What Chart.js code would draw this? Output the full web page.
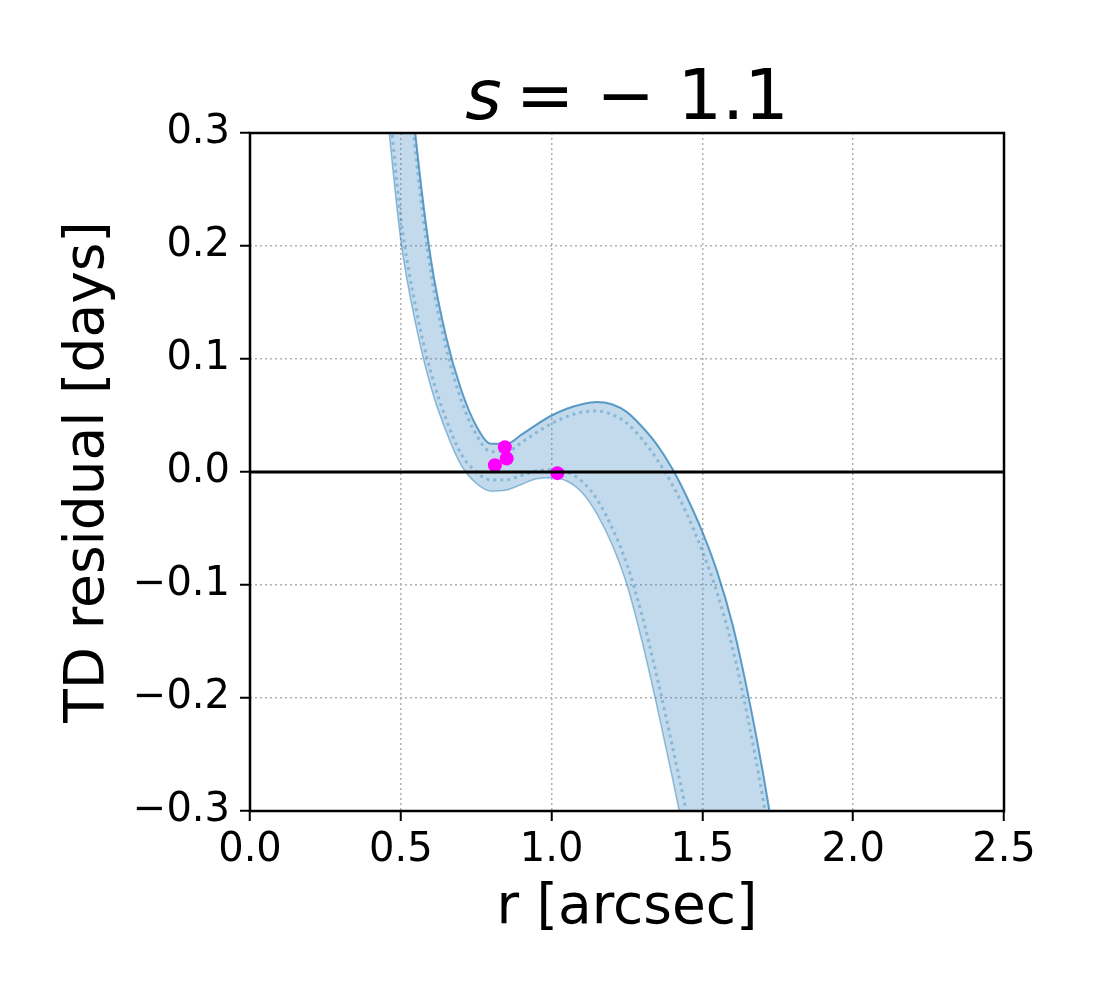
<!DOCTYPE html>
<html>
<head>
<meta charset="utf-8">
<script src="https://cdn.jsdelivr.net/npm/chart.js@4"></script>
<style>
  body { margin: 0; background: #fff; }
</style>
</head>
<body>
<canvas id="tdChart" width="1100" height="1000"></canvas>
<script>
// radius grid shared by the band curves [arcsec]
const rGrid = [0.45, 0.50, 0.55, 0.60, 0.65, 0.70, 0.75, 0.80, 0.85, 0.90,
               0.95, 1.00, 1.05, 1.10, 1.15, 1.20, 1.25, 1.30, 1.35, 1.40,
               1.45, 1.50, 1.55, 1.60, 1.65, 1.70, 1.75];

// upper / right edge of the residual band [days]
const upperEdge = [0.60, 0.44, 0.295, 0.188, 0.120, 0.073, 0.041, 0.025, 0.025, 0.033,
                   0.042, 0.050, 0.056, 0.060, 0.062, 0.060, 0.053, 0.040, 0.024, 0.003,
                   -0.023, -0.053, -0.089, -0.135, -0.195, -0.265, -0.345];

// denser curve just inside the upper edge
const innerUpper = [0.58, 0.42, 0.28, 0.176, 0.110, 0.064, 0.033, 0.018, 0.018, 0.026,
                    0.035, 0.043, 0.049, 0.053, 0.054, 0.051, 0.043, 0.029, 0.011, -0.011,
                    -0.038, -0.070, -0.108, -0.156, -0.217, -0.288, -0.37];

// denser curve just inside the lower edge
const innerLower = [0.36, 0.225, 0.145, 0.088, 0.047, 0.016, 0.000, -0.007, -0.007, -0.003,
                    0.001, 0.002, 0.000, -0.008, -0.024, -0.049, -0.082, -0.127, -0.182, -0.242,
                    -0.305, -0.375, -0.45, -0.53, -0.62, -0.72, -0.83];

// lower / left edge of the residual band [days]
const lowerEdge = [0.33, 0.205, 0.13, 0.075, 0.036, 0.006, -0.010, -0.017, -0.016, -0.011,
                   -0.006, -0.005, -0.008, -0.018, -0.037, -0.064, -0.100, -0.150, -0.208, -0.270,
                   -0.335, -0.40, -0.47, -0.55, -0.64, -0.74, -0.85];

// measured image positions (magenta)
const imageR = [0.812, 0.845, 0.851, 1.019];
const imageRes = [0.006, 0.022, 0.012, -0.001];

const xTicks = [0.0, 0.5, 1.0, 1.5, 2.0, 2.5];
const yTicks = [-0.3, -0.2, -0.1, 0.0, 0.1, 0.2, 0.3];

const toPts = (xs, ys) => xs.map((x, i) => ({ x: x, y: ys[i] }));
const fmt = v => v.toFixed(1).replace('-', '\u2212');

const FONT = "'DejaVu Sans', sans-serif";

const framePlugin = {
    id: 'frameAndTitle',
    afterDraw(chart) {
        const ctx = chart.ctx;
        const a = chart.chartArea;
        ctx.save();
        ctx.strokeStyle = '#000';
        ctx.lineWidth = 2.5;
        ctx.strokeRect(a.left, a.top, a.right - a.left, a.bottom - a.top);

        // title: italic s, upright rest (like mathtext)
        const size = 70;
        const italic = 'italic ' + size + 'px ' + FONT;
        const normal = size + 'px ' + FONT;
        const rest = '\u2009= \u2212 1.1';
        ctx.font = italic;
        const w1 = ctx.measureText('s').width;
        ctx.font = normal;
        const w2 = ctx.measureText(rest).width;
        const cx = (a.left + a.right) / 2;
        let x = cx - (w1 + w2) / 2;
        const base = 119;
        ctx.fillStyle = '#000';
        ctx.textBaseline = 'alphabetic';
        ctx.textAlign = 'left';
        ctx.font = italic;
        ctx.fillText('s', x, base);
        ctx.font = normal;
        ctx.fillText(rest, x + w1, base);
        ctx.restore();
    }
};

const bandLine = (label, values, color, width, dash, order) => ({
    label: label,
    data: toPts(rGrid, values),
    borderColor: color,
    borderWidth: width,
    borderDash: dash,
    pointRadius: 0,
    fill: false,
    cubicInterpolationMode: 'monotone',
    order: order
});

new Chart(document.getElementById('tdChart').getContext('2d'), {
    type: 'line',
    data: {
        datasets: [
            {
                label: 'zero',
                data: [{ x: 0, y: 0 }, { x: 2.5, y: 0 }],
                borderColor: '#000',
                borderWidth: 3,
                pointRadius: 0,
                order: 0
            },
            {
                label: 'images',
                data: toPts(imageR, imageRes),
                showLine: false,
                pointRadius: 7,
                pointBackgroundColor: '#ff00ff',
                pointBorderWidth: 0,
                order: 1
            },
            {
                label: 'upper',
                data: toPts(rGrid, upperEdge),
                borderColor: 'rgba(31,119,180,0.7)',
                borderWidth: 2,
                backgroundColor: 'rgba(31,119,180,0.27)',
                fill: 5,
                pointRadius: 0,
                cubicInterpolationMode: 'monotone',
                order: 2
            },
            bandLine('innerUpper', innerUpper, 'rgba(31,119,180,0.35)', 3, [3, 4], 3),
            bandLine('innerLower', innerLower, 'rgba(31,119,180,0.35)', 3, [3, 4], 4),
            bandLine('lower', lowerEdge, 'rgba(31,119,180,0.45)', 1.5, [], 5)
        ]
    },
    options: {
        responsive: false,
        animation: false,
        layout: { padding: { top: 133, right: 96, left: 0, bottom: 0 } },
        plugins: {
            legend: { display: false },
            tooltip: { enabled: false }
        },
        scales: {
            x: {
                type: 'linear',
                min: 0, max: 2.5,
                afterFit: s => { s.height = 189; },
                afterBuildTicks: s => { s.ticks = xTicks.map(v => ({ value: v })); },
                ticks: {
                    callback: v => fmt(v),
                    color: '#000',
                    font: { family: FONT, size: 40 },
                    padding: 6,
                    maxRotation: 0
                },
                grid: { color: '#b0b0b0', lineWidth: 1.5, tickColor: '#000', tickLength: 10, tickWidth: 2 },
                border: { display: false, dash: [2, 3] },
                title: {
                    display: true,
                    text: 'r [arcsec]',
                    color: '#000',
                    font: { family: FONT, size: 55 },
                    padding: { top: 0, bottom: 58 }
                }
            },
            y: {
                type: 'linear',
                min: -0.3, max: 0.3,
                afterFit: s => { s.width = 250; },
                afterBuildTicks: s => { s.ticks = yTicks.map(v => ({ value: v })); },
                ticks: {
                    callback: v => fmt(v),
                    color: '#000',
                    font: { family: FONT, size: 40 },
                    padding: 10
                },
                grid: { color: '#b0b0b0', lineWidth: 1.5, tickColor: '#000', tickLength: 10, tickWidth: 2 },
                border: { display: false, dash: [2, 3] },
                title: {
                    display: true,
                    text: 'TD residual [days]',
                    color: '#000',
                    font: { family: FONT, size: 55 },
                    padding: { top: 56, bottom: 0 }
                }
            }
        }
    },
    plugins: [framePlugin]
});
</script>
</body>
</html>
